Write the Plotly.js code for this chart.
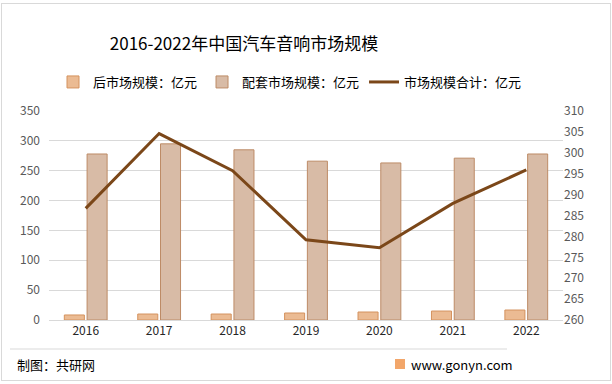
<!DOCTYPE html>
<html><head><meta charset="utf-8">
<script src="https://cdn.plot.ly/plotly-3.0.1.min.js"></script>
<style>html,body{margin:0;padding:0;background:#fff}#wrap{position:relative;width:612px;height:384px}#c{width:612px;height:384px}#bd{position:absolute;left:1px;top:3px;width:608px;height:376px;border:1px solid #d9d9d9;pointer-events:none}</style>
</head><body><div id="wrap"><div id="c"></div><div id="bd"></div></div>
<script>
const years = ['2016','2017','2018','2019','2020','2021','2022'];
const afterMarket = [8.4, 10, 10, 11.7, 13.4, 15, 16.7];
const oemMarket = [278, 295, 285, 266, 263, 271, 278];
const totalMarket = [286.7, 304.6, 295.7, 279.2, 277.3, 287.9, 295.9];
const names = ['后市场规模：亿元', '配套市场规模：亿元', '市场规模合计：亿元'];
const leftTicks = [0,50,100,150,200,250,300,350];
const rightTicks = [260,265,270,275,280,285,290,295,300,305,310];

const font = '"Noto Sans CJK SC", "Noto Sans", sans-serif';
const traces = [
  {type:'bar', x:years, y:afterMarket, name:names[0],
   marker:{color:'#EBBB93', line:{color:'#D4925E', width:1}}},
  {type:'bar', x:years, y:oemMarket, name:names[1],
   marker:{color:'#D8BBA6', line:{color:'#BD8B66', width:1}}},
  {type:'scatter', mode:'lines', x:years, y:totalMarket, name:names[2], yaxis:'y2',
   line:{color:'#7B4719', width:3}}
];
const layout = {
  width:612, height:384,
  margin:{l:49, r:49, t:111, b:64},
  paper_bgcolor:'#fff', plot_bgcolor:'#fff',
  font:{family:font, size:12, color:'#595959'},
  title:{text:'2016-2022年中国汽车音响市场规模', font:{family:font, size:17, color:'#000'},
    xref:'container', yref:'container', x:244/612, xanchor:'center', y:1-44/384, yanchor:'middle'},
  barmode:'group', bargap:0.38, bargroupgap:0.12,
  showlegend:true,
  legend:{orientation:'h', x:4/514, xanchor:'left', y:(320-82)/209, yanchor:'middle',
    font:{family:font, size:13, color:'#000'}, traceorder:'normal', bgcolor:'rgba(0,0,0,0)'},
  xaxis:{type:'category', tickvals:years, ticktext:years, showgrid:false, showline:true, linecolor:'#d9d9d9',
    ticks:'', tickfont:{size:12, color:'#262626'}, fixedrange:true},
  yaxis:{range:[0,350], tickvals:leftTicks, showgrid:true, gridcolor:'#d9d9d9', zeroline:false,
    showline:false, ticks:'', tickfont:{size:12, color:'#595959'}, ticklabelstandoff:8},
  yaxis2:{range:[260,310], tickvals:rightTicks, overlaying:'y', side:'right', showgrid:false,
    zeroline:false, showline:false, ticks:'', tickfont:{size:12, color:'#595959'}},
  shapes:[
    {type:'line', xref:'paper', yref:'paper', x0:(10-49)/514, x1:(507-49)/514, y0:(320-349)/209, y1:(320-349)/209,
     line:{color:'#d9d9d9', width:1}},
    {type:'rect', xref:'paper', yref:'paper', x0:(395-49)/514, x1:(405-49)/514, y0:(320-369)/209, y1:(320-359)/209,
     fillcolor:'#F2A66A', line:{width:0}}
  ],
  annotations:[
    {text:'制图：共研网', xref:'paper', yref:'paper', x:(15-49)/514, xanchor:'left', y:(320-364)/209, yanchor:'middle',
     showarrow:false, font:{family:font, size:13, color:'#000'}},
    {text:'www.gonyn.com', xref:'paper', yref:'paper', x:(409-49)/514, xanchor:'left', y:(320-364)/209, yanchor:'middle',
     showarrow:false, font:{family:font, size:13, color:'#000'}}
  ]
};
Plotly.newPlot('c', traces, layout, {displayModeBar:false, staticPlot:true});
</script></body></html>
